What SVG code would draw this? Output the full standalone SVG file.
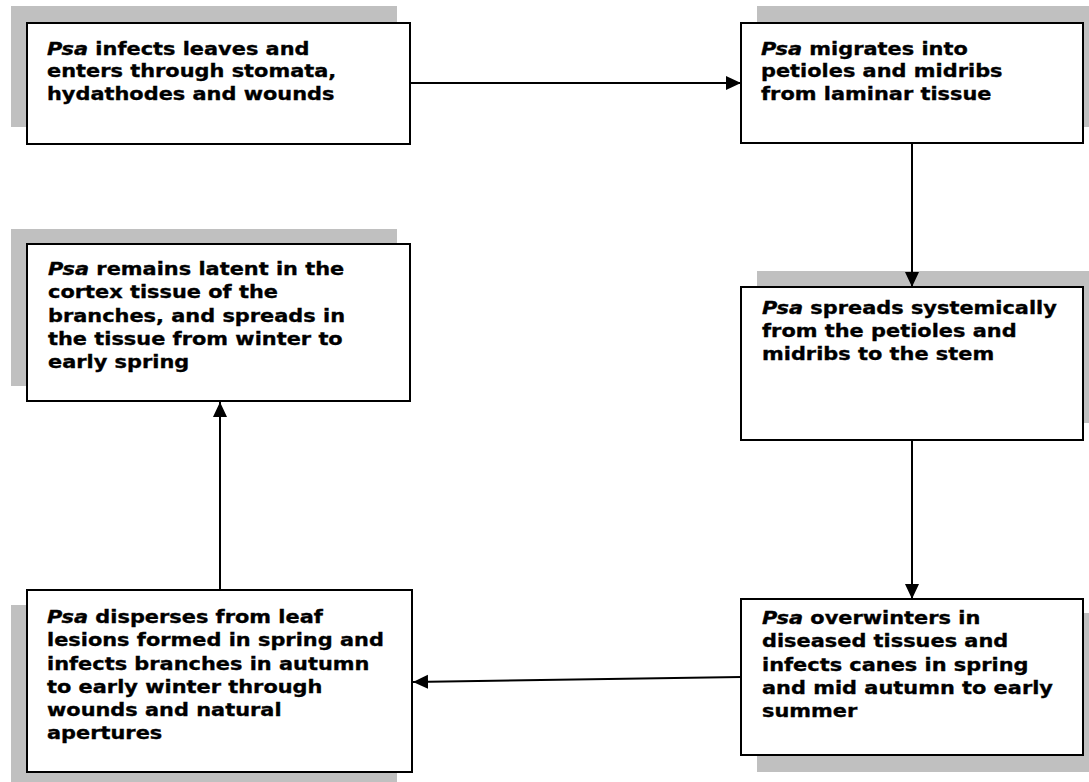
<svg xmlns="http://www.w3.org/2000/svg" width="1089" height="782" viewBox="0 0 1089 782">
<style>
.shadow{fill:#c0c0c0;stroke:none}
.box{fill:#ffffff;stroke:#000000;stroke-width:2}
.lbl{font-family:"DejaVu Sans","Verdana",sans-serif;font-weight:bold;font-size:18.5px;fill:#000000;stroke:#000000;stroke-width:0.35}
.it{font-style:italic}
.conn{stroke:#000000;stroke-width:2;fill:none}
</style>
<defs>
<marker id="arr" markerUnits="userSpaceOnUse" markerWidth="16" markerHeight="16" viewBox="0 0 16 16" refX="15" refY="7" orient="auto">
<path d="M0,0 L15,7 L0,14 Z" fill="#000000"/>
</marker>
</defs>
<rect width="1089" height="782" fill="#ffffff"/>
<g id="node1">
<rect class="shadow" x="11" y="6" width="386" height="121"/>
<rect class="box" x="27" y="23" width="383" height="121"/>
<text class="lbl" transform="translate(47,55) scale(1.13,1)"><tspan x="0" y="0"><tspan class="it">Psa</tspan> infects leaves and</tspan><tspan x="0" y="22.5">enters through stomata,</tspan><tspan x="0" y="45">hydathodes and wounds</tspan></text>
</g>
<g id="node2">
<rect class="shadow" x="757" y="6" width="332" height="121"/>
<rect class="box" x="741" y="23" width="342" height="120"/>
<text class="lbl" transform="translate(761,55) scale(1.13,1)"><tspan x="0" y="0"><tspan class="it">Psa</tspan> migrates into</tspan><tspan x="0" y="22.5">petioles and midribs</tspan><tspan x="0" y="45">from laminar tissue</tspan></text>
</g>
<g id="node3">
<rect class="shadow" x="757" y="271" width="332" height="152"/>
<rect class="box" x="741" y="287" width="342" height="153"/>
<text class="lbl" transform="translate(762,314) scale(1.13,1)"><tspan x="0" y="0"><tspan class="it">Psa</tspan> spreads systemically</tspan><tspan x="0" y="23">from the petioles and</tspan><tspan x="0" y="46">midribs to the stem</tspan></text>
</g>
<g id="node4">
<rect class="shadow" x="757" y="613" width="332" height="159"/>
<rect class="box" x="741" y="599" width="342" height="156"/>
<text class="lbl" transform="translate(762,624) scale(1.13,1)"><tspan x="0" y="0"><tspan class="it">Psa</tspan> overwinters in</tspan><tspan x="0" y="23.3">diseased tissues and</tspan><tspan x="0" y="46.6">infects canes in spring</tspan><tspan x="0" y="69.9">and mid autumn to early</tspan><tspan x="0" y="93.2">summer</tspan></text>
</g>
<g id="node5">
<rect class="shadow" x="11" y="605" width="386" height="177"/>
<rect class="box" x="27" y="590" width="385" height="182"/>
<text class="lbl" transform="translate(47,623) scale(1.13,1)"><tspan x="0" y="0"><tspan class="it">Psa</tspan> disperses from leaf</tspan><tspan x="0" y="23.3">lesions formed in spring and</tspan><tspan x="0" y="46.6">infects branches in autumn</tspan><tspan x="0" y="69.9">to early winter through</tspan><tspan x="0" y="93.2">wounds and natural</tspan><tspan x="0" y="116.5">apertures</tspan></text>
</g>
<g id="node6">
<rect class="shadow" x="11" y="229" width="386" height="157"/>
<rect class="box" x="27" y="244" width="383" height="157"/>
<text class="lbl" transform="translate(48,275) scale(1.13,1)"><tspan x="0" y="0"><tspan class="it">Psa</tspan> remains latent in the</tspan><tspan x="0" y="23.3">cortex tissue of the</tspan><tspan x="0" y="46.6">branches, and spreads in</tspan><tspan x="0" y="69.9">the tissue from winter to</tspan><tspan x="0" y="93.2">early spring</tspan></text>
</g>
<g id="connectors">
<line class="conn" x1="411" y1="83" x2="741" y2="83" marker-end="url(#arr)"/>
<line class="conn" x1="912" y1="143" x2="912" y2="287" marker-end="url(#arr)"/>
<line class="conn" x1="912" y1="440" x2="912" y2="599" marker-end="url(#arr)"/>
<line class="conn" x1="741" y1="677" x2="413" y2="682" marker-end="url(#arr)"/>
<line class="conn" x1="220" y1="590" x2="220" y2="402" marker-end="url(#arr)"/>
</g>
</svg>
